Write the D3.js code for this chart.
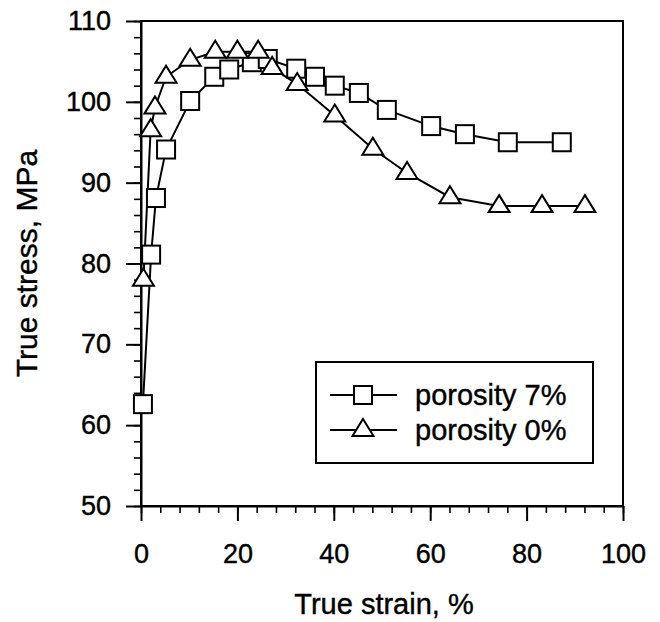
<!doctype html>
<html>
<head>
<meta charset="utf-8">
<title>True stress vs true strain</title>
<script src="https://cdn.jsdelivr.net/npm/d3@7"></script>
<style>
  body { margin: 0; background: #fff; }
  text { font-family: "Liberation Sans", Arial, sans-serif; fill: #000; stroke: #000; stroke-width: 0.4px; }
</style>
</head>
<body>
<script>
// porosity 7% (squares)
var strain7 = [0.4, 2.1, 3.1, 5.2, 10.2, 15.2, 18.3, 23, 26.3, 32.2, 36.1, 40.2, 45.2, 51, 60.2, 67.2, 76.1, 87.3];
var stress7 = [62.6, 81.1, 88.1, 94.1, 100.1, 103.1, 104, 104.9, 105.3, 104.1, 103.1, 102, 101.1, 99, 97, 96, 95, 95];
// porosity 0% (triangles)
var strain0 = [0.5, 2, 2.9, 5.2, 10.2, 15.4, 20, 24.3, 27.2, 32.4, 40.2, 48.1, 55.2, 64.1, 74.3, 83.2, 92.1];
var stress0 = [78, 96.5, 99.3, 103.1, 105.2, 106.2, 106.2, 106.2, 104.2, 102.2, 98.3, 94.2, 91.2, 88.2, 87.1, 87.1, 87.1];

var xTicks = [0, 20, 40, 60, 80, 100];
var yTicks = [50, 60, 70, 80, 90, 100, 110];
var legendLabels = ["porosity 7%", "porosity 0%"];

var width = 660, height = 622;
var plotL = 141, plotT = 21, plotR = 623, plotB = 506;

var x = d3.scaleLinear().domain([0, 100]).range([plotL, plotR]);
var y = d3.scaleLinear().domain([50, 110]).range([plotB, plotT]);

var svg = d3.select("body").append("svg")
    .attr("width", width)
    .attr("height", height);

// frame
svg.append("rect")
    .attr("x", plotL).attr("y", plotT)
    .attr("width", plotR - plotL).attr("height", plotB - plotT)
    .attr("fill", "none").attr("stroke", "#000").attr("stroke-width", 2);

// minor ticks
svg.append("g")
    .attr("transform", "translate(0," + plotB + ")")
    .call(d3.axisBottom(x).tickValues(d3.range(0, 101, 4)).tickSize(7).tickFormat(""))
    .call(function (g) { g.select(".domain").remove(); g.selectAll("line").attr("stroke-width", 1.6); });
svg.append("g")
    .attr("transform", "translate(" + plotL + ",0)")
    .call(d3.axisLeft(y).tickValues(d3.range(50, 111, 2)).tickSize(7).tickFormat(""))
    .call(function (g) { g.select(".domain").remove(); g.selectAll("line").attr("stroke-width", 1.6); });

// major ticks
var xAxis = svg.append("g")
    .attr("transform", "translate(0," + plotB + ")")
    .call(d3.axisBottom(x).tickValues(xTicks).tickSize(15).tickPadding(23).tickSizeOuter(0));
var yAxis = svg.append("g")
    .attr("transform", "translate(" + plotL + ",0)")
    .call(d3.axisLeft(y).tickValues(yTicks).tickSize(15).tickPadding(15).tickSizeOuter(0));

[xAxis, yAxis].forEach(function (g) {
    g.attr("font-size", null).attr("font-family", null);
    g.select(".domain").attr("stroke-width", 2);
    g.selectAll("line").attr("stroke-width", 2);
    g.selectAll("text").attr("font-size", 27).attr("fill", "#000");
});

// axis titles
svg.append("text")
    .attr("x", (plotL + plotR) / 2 + 2).attr("y", 614)
    .attr("text-anchor", "middle").attr("font-size", 29)
    .text("True strain, %");
svg.append("text")
    .attr("transform", "translate(37," + ((plotT + plotB) / 2) + ") rotate(-90)")
    .attr("text-anchor", "middle").attr("font-size", 30)
    .text("True stress, MPa");

var line = d3.line()
    .x(function (d) { return x(d[0]); })
    .y(function (d) { return y(d[1]); });

var data7 = strain7.map(function (s, i) { return [s, stress7[i]]; });
var data0 = strain0.map(function (s, i) { return [s, stress0[i]]; });

var triPath = "M0,-11L10.5,6L-10.5,6Z";
var sq = 18;

function drawSquares(g, pts) {
    g.selectAll("rect.m").data(pts).enter().append("rect")
        .attr("class", "m")
        .attr("x", function (d) { return x(d[0]) - sq / 2; })
        .attr("y", function (d) { return y(d[1]) - sq / 2; })
        .attr("width", sq).attr("height", sq)
        .attr("fill", "#fff").attr("stroke", "#000").attr("stroke-width", 2);
}
function drawTriangles(g, pts) {
    g.selectAll("path.m").data(pts).enter().append("path")
        .attr("class", "m")
        .attr("d", triPath)
        .attr("transform", function (d) { return "translate(" + x(d[0]) + "," + y(d[1]) + ")"; })
        .attr("fill", "#fff").attr("stroke", "#000").attr("stroke-width", 2);
}

svg.append("path").datum(data7).attr("d", line)
    .attr("fill", "none").attr("stroke", "#000").attr("stroke-width", 2);
svg.append("path").datum(data0).attr("d", line)
    .attr("fill", "none").attr("stroke", "#000").attr("stroke-width", 2);
drawSquares(svg.append("g"), data7);
drawTriangles(svg.append("g"), data0);

// legend
var lg = svg.append("g");
lg.append("rect")
    .attr("x", 316).attr("y", 362).attr("width", 277).attr("height", 101)
    .attr("fill", "#fff").attr("stroke", "#000").attr("stroke-width", 2);
legendLabels.forEach(function (lab, i) {
    var ly = 395 + i * 35;
    lg.append("line").attr("x1", 330).attr("x2", 397).attr("y1", ly).attr("y2", ly)
        .attr("stroke", "#000").attr("stroke-width", 2);
    if (i === 0) {
        lg.append("rect").attr("x", 363 - sq / 2).attr("y", ly - sq / 2).attr("width", sq).attr("height", sq)
            .attr("fill", "#fff").attr("stroke", "#000").attr("stroke-width", 2);
    } else {
        lg.append("path").attr("d", triPath).attr("transform", "translate(363," + ly + ")")
            .attr("fill", "#fff").attr("stroke", "#000").attr("stroke-width", 2);
    }
    lg.append("text").attr("x", 415).attr("y", ly + 10).attr("font-size", 29).text(lab);
});
</script>
</body>
</html>
